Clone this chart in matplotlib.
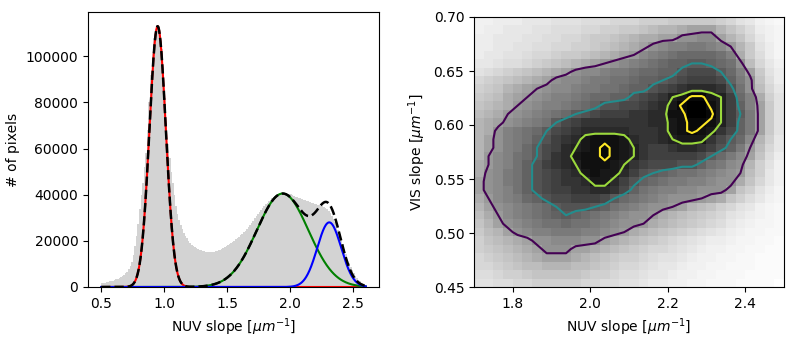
import numpy as np
import matplotlib
matplotlib.use("Agg")
import matplotlib.pyplot as plt

# ---------------- Left panel data ----------------
hist_start = 0.5
hist_binwidth = 0.0125
hist_counts = [
    1650, 1750, 1900, 2000, 2200, 2400, 2600, 2800, 3050, 3350,
    3650, 3950, 4400, 4800, 5300, 5900, 6700, 7900, 9200, 11000,
    14000, 17800, 22000, 27500, 34000, 40000, 45000, 52000, 58000, 68000,
    80000, 92000, 101000, 108000, 112000, 113500, 113000, 110000, 103000, 93000,
    82000, 71000, 62000, 56000, 50000, 45000, 40000, 35000, 31500, 29000,
    26800, 25000, 23600, 22300, 21100, 20000, 19100, 18400, 17800, 17200,
    16800, 16400, 16100, 15900, 15700, 15500, 15300, 15250, 15200, 15200,
    15250, 15350, 15500, 15700, 15900, 16150, 16500, 16850, 17200, 17600,
    18000, 18500, 19000, 19500, 20000, 20600, 21200, 21800, 22400, 23100,
    23700, 24400, 25100, 26000, 26900, 27800, 28700, 29700, 30600, 31600,
    32500, 33400, 34300, 35100, 35900, 36600, 37300, 37900, 38500, 39000,
    39400, 39800, 40100, 40400, 40600, 40700, 40700, 40600, 40500, 40300,
    40100, 39800, 39500, 39200, 38900, 38700, 38400, 38200, 37900, 37700,
    37400, 37200, 36900, 36600, 36400, 36100, 35900, 35700, 35500, 35300,
    35000, 34700, 34300, 33800, 33000, 32000, 30900, 29600, 28200, 26600,
    24800, 22900, 21000, 18800, 16600, 14400, 12300, 10400, 8700, 7200,
    5900, 4800, 3900, 3100, 2400, 1800, 1200, 700,
]
fit_centers = [0.948, 1.94, 2.31]
fit_amplitudes = [113000, 40500, 28000]
fit_sigmas = [0.065, 0.205, 0.095]
fit_colors = ["red", "green", "blue"]

# ---------------- Right panel data ----------------
nuv_range = [1.7, 2.5]
vis_range = [0.45, 0.70]
# 2D histogram intensities (rows from top = VIS 0.70 down to 0.45), scale 0-35
density_rows = [
    [4,4,5,5,5,6,6,6,7,7,7,8,8,8,9,9,9,10,10,10,11,11,11,11,11,10,9,7,6,4,3,2],
    [4,5,5,6,6,6,7,7,8,8,8,9,9,10,10,11,11,12,13,14,14,15,16,16,16,14,12,10,8,5,4,3],
    [5,5,6,6,6,7,7,8,8,9,9,10,11,11,12,13,14,15,15,16,16,18,18,19,19,16,14,12,9,6,4,3],
    [5,5,6,6,7,7,8,8,9,9,10,10,11,12,13,14,15,16,18,19,20,20,21,21,20,19,17,14,11,7,5,3],
    [5,6,6,7,7,8,9,9,10,11,11,12,13,14,15,16,17,19,20,21,22,23,23,23,23,22,20,15,11,8,5,3],
    [6,6,7,8,8,9,10,11,12,13,14,15,16,17,18,19,20,21,22,23,24,24,25,25,24,23,22,18,13,9,6,4],
    [7,8,9,10,11,12,13,14,15,16,18,19,19,20,21,21,22,23,23,24,24,26,27,27,27,25,23,20,16,11,7,5],
    [9,10,11,12,13,14,15,16,18,19,19,20,21,21,22,22,23,24,24,25,26,27,28,28,28,27,24,21,18,12,8,5],
    [10,11,12,14,15,16,17,18,19,19,20,21,21,22,22,23,24,24,26,27,28,29,30,30,30,29,26,22,18,13,9,6],
    [11,12,13,15,16,17,18,19,20,20,21,22,23,23,24,24,26,27,28,29,31,32,34,34,32,31,28,23,20,15,10,7],
    [12,13,14,15,17,18,19,20,20,21,22,23,24,26,26,27,27,28,29,30,32,34,35,35,33,31,28,24,20,16,11,7],
    [13,14,15,17,18,19,20,21,22,23,25,26,27,28,28,28,29,29,30,30,33,33,35,35,34,31,28,25,21,16,11,7],
    [14,15,16,18,19,20,21,22,25,27,28,29,29,29,29,29,29,29,30,30,32,33,34,34,33,31,28,24,21,16,11,7],
    [14,15,18,20,21,22,23,25,27,28,29,30,30,30,30,30,29,29,29,30,32,33,34,33,32,29,27,24,21,16,11,7],
    [14,16,18,20,21,22,24,26,28,29,30,32,33,33,33,32,30,29,29,30,31,32,32,32,29,27,25,23,19,14,10,6],
    [14,16,18,20,21,23,25,27,28,30,31,32,33,34,33,32,31,29,28,28,29,30,30,29,28,26,24,21,17,13,9,6],
    [14,17,19,20,22,23,25,27,29,30,32,33,33,34,33,32,31,29,28,28,28,28,28,27,25,23,21,19,16,12,8,5],
    [15,17,19,20,22,24,26,28,29,30,31,33,33,33,32,31,29,28,27,27,27,26,26,24,22,21,19,18,14,10,7,4],
    [15,18,19,21,22,24,26,27,28,29,30,32,33,32,32,30,28,26,25,24,23,22,22,21,20,19,18,17,13,10,6,4],
    [16,18,19,21,22,24,26,27,28,29,29,30,32,32,30,28,26,24,23,22,21,21,20,20,19,18,18,15,12,9,6,4],
    [16,18,19,20,22,24,26,27,28,28,29,29,30,30,29,27,24,22,21,20,20,19,19,18,18,18,16,12,10,7,5,3],
    [15,17,19,20,21,23,24,26,27,27,28,28,28,27,25,23,22,21,20,19,18,18,18,17,16,15,12,10,8,6,4,3],
    [14,16,18,19,20,21,22,23,25,26,26,26,25,24,22,21,20,19,18,18,17,16,14,13,12,10,9,7,6,4,3,2],
    [13,15,17,19,20,21,22,23,24,25,24,23,22,21,20,19,18,18,17,15,14,13,12,11,10,9,7,6,5,4,3,2],
    [12,14,16,18,19,20,21,22,22,23,22,22,21,20,19,18,18,17,15,14,13,12,11,10,9,8,6,5,4,3,3,2],
    [11,13,14,16,18,19,20,20,21,21,21,20,20,19,18,17,15,14,13,12,11,10,9,8,7,6,5,4,3,3,2,2],
    [10,12,13,14,15,16,18,18,19,19,19,18,18,16,15,14,13,12,11,10,9,8,7,6,5,5,4,3,3,2,2,1],
    [10,11,12,13,14,15,16,18,18,18,16,16,15,14,13,12,11,10,9,9,8,7,6,5,4,4,3,3,2,2,1,1],
    [9,10,11,12,13,14,15,16,16,16,15,14,13,12,11,10,10,9,8,7,7,6,5,4,4,3,3,2,2,1,1,1],
    [9,9,10,11,12,13,13,14,14,14,13,13,12,11,10,9,9,8,7,6,6,5,4,4,3,3,2,2,2,1,1,1],
    [8,8,9,10,10,11,12,12,12,12,12,11,10,10,9,8,8,7,6,6,5,4,4,3,3,2,2,2,1,1,1,1],
    [7,7,8,8,9,9,10,10,10,10,10,9,9,8,8,7,7,6,5,5,4,4,3,3,2,2,2,1,1,1,1,0],
]
contour_levels = [17, 25, 31, 33.5]

fig = plt.figure(figsize=(7.94, 3.44), dpi=100)

# ---------------- Left panel ----------------
ax1 = fig.add_axes([88 / 794, 57 / 344, 291 / 794, 275 / 344])
edges = hist_start + hist_binwidth * np.arange(len(hist_counts) + 1)
centers = 0.5 * (edges[:-1] + edges[1:])
ax1.hist(centers, bins=edges, weights=hist_counts, color="lightgray",
         histtype="stepfilled")
x = np.linspace(edges[0], edges[-1], 800)
total = np.zeros_like(x)
for c, a, s, col in zip(fit_centers, fit_amplitudes, fit_sigmas, fit_colors):
    g = a * np.exp(-0.5 * ((x - c) / s) ** 2)
    total += g
    ax1.plot(x, g, color=col, lw=1.5)
ax1.plot(x, total, "k--", lw=1.8)
ax1.set_xlabel(r"NUV slope [$\mu m^{-1}$]")
ax1.set_ylabel("# of pixels")

# ---------------- Right panel ----------------
ax2 = fig.add_axes([474 / 794, 57 / 344, 310 / 794, 270 / 344])
grid = np.array(density_rows, dtype=float)
ny, nx = grid.shape
ax2.imshow(grid, extent=[nuv_range[0], nuv_range[1], vis_range[0], vis_range[1]],
           origin="upper", aspect="auto", cmap="Greys", vmin=0, vmax=35,
           interpolation="nearest")
xc = nuv_range[0] + (np.arange(nx) + 0.5) * (nuv_range[1] - nuv_range[0]) / nx
yc = vis_range[0] + (np.arange(ny) + 0.5) * (vis_range[1] - vis_range[0]) / ny
ax2.contour(xc, yc, grid[::-1], levels=contour_levels, cmap="viridis", linewidths=1.5)
ax2.set_xlim(nuv_range)
ax2.set_ylim(vis_range)
ax2.set_xlabel(r"NUV slope [$\mu m^{-1}$]")
ax2.set_ylabel(r"VIS slope [$\mu m^{-1}$]")

fig.savefig("out.png", dpi=100)
